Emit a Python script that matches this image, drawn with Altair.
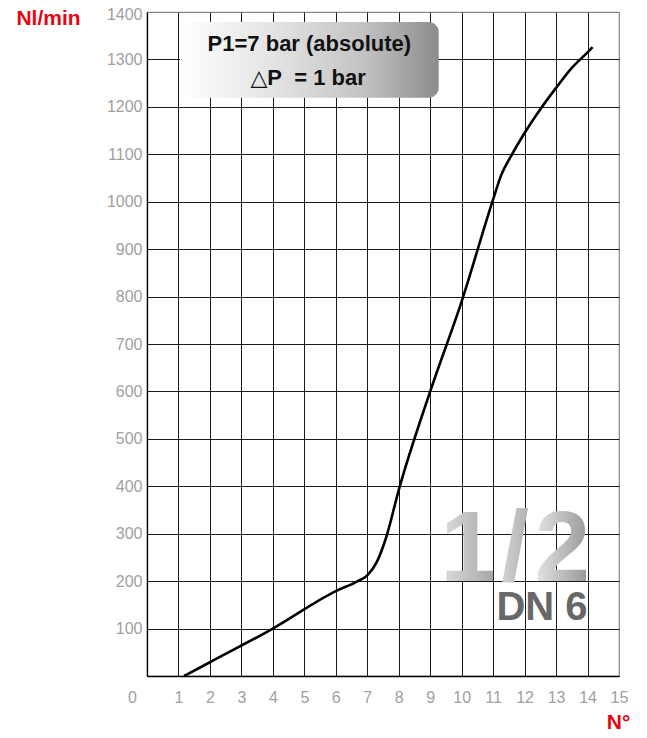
import altair as alt
import pandas as pd

# ---- data ----
turns = [1.18, 2.0, 4.0, 6.0, 6.7, 7.0, 7.3, 7.6, 8.0, 9.0,
         10.0, 11.0, 11.25, 11.6, 12.0, 12.5, 13.0, 13.5, 14.0, 14.16]
flow = [0, 29, 100, 179, 200, 212, 240, 292, 392, 600,
        790, 1005, 1055, 1100, 1145, 1195, 1240, 1282, 1315, 1326]

x_ticks = list(range(0, 16))
y_ticks = list(range(100, 1500, 100))

box_lines = ["P1=7 bar (absolute)", "\u25b3P\u00a0 = 1 bar"]
size_glyphs = ["1", "/", "2"]
dn_label = ["DN 6"]

FONT = "Liberation Sans, Arial, Helvetica, DejaVu Sans, sans-serif"
RED = "#e30613"
LABEL_GREY = "#a0a0a0"

df_curve = pd.DataFrame({"x": turns, "y": flow})

x_scale = alt.Scale(domain=[0, 15], nice=False, zero=False)
y_scale = alt.Scale(domain=[0, 1400], nice=False, zero=False)

x_axis = alt.Axis(
    values=x_ticks, format="d", title="N\u00b0", grid=True, gridColor="#1a1a1a", gridWidth=1,
    gridOpacity={"condition": {"test": "datum.value == 0 || datum.value == 15", "value": 0}, "value": 1},
    ticks=False, domainColor="#000000", domainWidth=1.3,
    labelFont=FONT, labelFontSize=16, labelColor=LABEL_GREY, labelPadding=13,
    labelOffset={"condition": {"test": "datum.value == 0", "value": -15}, "value": 0},
    labelFlush=False, labelOverlap=False,
    titleFont=FONT, titleFontSize=21, titleFontWeight="bold", titleColor=RED,
    titleX=471, titleY=52, titleAlign="center", titleBaseline="alphabetic", titleAngle=0,
)
y_axis = alt.Axis(
    values=y_ticks, format="d", title="Nl/min", grid=True, gridColor="#1a1a1a", gridWidth=1,
    gridOpacity={"condition": {"test": "datum.value == 1400", "value": 0}, "value": 1},
    ticks=False, domainColor="#000000", domainWidth=1.3,
    labelFont=FONT, labelFontSize=16, labelColor=LABEL_GREY, labelPadding=5,
    labelOffset={"condition": {"test": "datum.value == 1400", "value": 2}, "value": 0},
    labelFlush=False, labelOverlap=False,
    titleFont=FONT, titleFontSize=21, titleFontWeight="bold", titleColor=RED,
    titleX=-99, titleY=12, titleAlign="center", titleBaseline="alphabetic", titleAngle=0,
)


def X(field):
    return alt.X(field, type="quantitative", scale=x_scale, axis=x_axis)


def Y(field):
    return alt.Y(field, type="quantitative", scale=y_scale, axis=y_axis)


curve = alt.Chart(df_curve).mark_line(
    color="black", strokeWidth=2.6, interpolate="monotone"
).encode(x=X("x"), y=Y("y"))

# rounded gradient box with the test conditions
df_box = pd.DataFrame({"x": [1.05], "x2": [9.27], "y": [1379], "y2": [1219]})
box = alt.Chart(df_box).mark_rect(
    cornerRadius=10,
    fill=alt.LinearGradient(
        gradient="linear", x1=0, x2=1, y1=0, y2=0,
        stops=[alt.GradientStop(color="#ffffff", offset=0),
               alt.GradientStop(color="#e4e4e4", offset=0.35),
               alt.GradientStop(color="#c4c4c4", offset=0.7),
               alt.GradientStop(color="#8c8c8c", offset=1)],
    ),
).encode(x=X("x"), x2="x2:Q", y=Y("y"), y2="y2:Q")

df_box_text = pd.DataFrame({"t": box_lines, "x": [5.16, 5.12], "y": [1317, 1247]})
box_text = alt.Chart(df_box_text).mark_text(
    font=FONT, fontSize=22, fontWeight="bold", color="#111111",
    align="center", baseline="alphabetic",
).encode(x=X("x"), y=Y("y"), text="t:N")

glyph_layers = []
glyph_x = [10.2, 11.7, 13.2]
glyph_grads = [("#dedede", "#a4a4a4"), ("#d4d4d4", "#b0b0b0"), ("#e6e6e6", "#959595")]
for g, gx, (c0, c1) in zip(size_glyphs, glyph_x, glyph_grads):
    dfg = pd.DataFrame({"t": [g], "x": [gx], "y": [200]})
    glyph_layers.append(
        alt.Chart(dfg).mark_text(
            font=FONT, fontSize=100, fontWeight="bold", align="center", baseline="alphabetic",
            fill=alt.LinearGradient(
                gradient="linear", x1=0, x2=1, y1=0, y2=0,
                stops=[alt.GradientStop(color=c0, offset=0),
                       alt.GradientStop(color=c1, offset=1)],
            ),
        ).encode(x=X("x"), y=Y("y"), text="t:N")
    )

df_dn = pd.DataFrame({"t": dn_label, "x": [14.0], "y": [118]})
dn = alt.Chart(df_dn).mark_text(
    font=FONT, fontSize=40, fontWeight="bold", color="#686868",
    align="right", baseline="alphabetic",
).encode(x=X("x"), y=Y("y"), text="t:N")

chart = alt.layer(curve, box, box_text, *glyph_layers, dn).properties(
    width=472, height=664,
    autosize=alt.AutoSizeParams(type="none"),
    padding={"left": 139, "top": 4, "right": 20, "bottom": 54},
    background="white",
).configure_view(stroke="#888888", strokeWidth=1.2)

chart.save("out.html", embed_options={"renderer": "svg", "actions": False})
